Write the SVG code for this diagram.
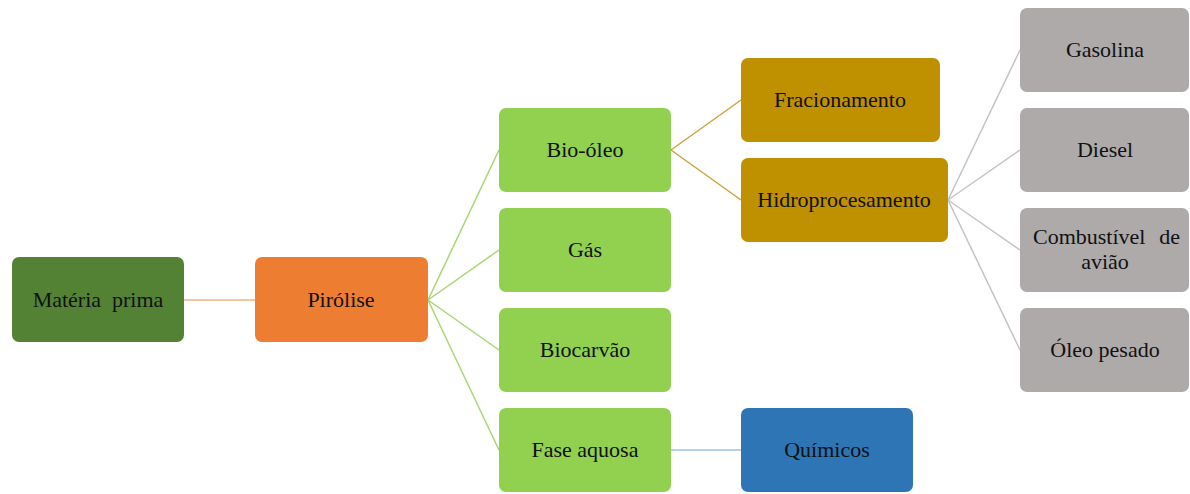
<svg xmlns="http://www.w3.org/2000/svg" width="1190" height="494" viewBox="0 0 1190 494">
<style>
.t{font-family:"Liberation Serif","Times New Roman",serif;font-size:22px;fill:#111;text-anchor:middle}
.c{fill:none;stroke-width:1.5}
</style>
<rect width="1190" height="494" fill="#fff"/>
<g id="connectors">
<line class="c" stroke="#f4b183" x1="184" y1="300" x2="255" y2="300"/>
<g stroke="#a9d672">
<line class="c" x1="428" y1="300" x2="499" y2="150"/>
<line class="c" x1="428" y1="300" x2="499" y2="250"/>
<line class="c" x1="428" y1="300" x2="499" y2="350"/>
<line class="c" x1="428" y1="300" x2="499" y2="450"/>
</g>
<g stroke="#cba53a">
<line class="c" x1="671" y1="150" x2="741" y2="100"/>
<line class="c" x1="671" y1="150" x2="741" y2="200"/>
</g>
<g stroke="#c4c4c4">
<line class="c" x1="948" y1="200" x2="1020" y2="50"/>
<line class="c" x1="948" y1="200" x2="1020" y2="150"/>
<line class="c" x1="948" y1="200" x2="1020" y2="250"/>
<line class="c" x1="948" y1="200" x2="1020" y2="350"/>
</g>
<line class="c" stroke="#9dc3e6" x1="671" y1="450" x2="741" y2="450"/>
</g>
<g id="materia"><rect x="12" y="257" width="172" height="85" rx="7" fill="#548235"/><text class="t" x="98" y="307">Matéria&#160; prima</text></g>
<g id="pirolise"><rect x="255" y="257" width="173" height="85" rx="7" fill="#ed7d31"/><text class="t" x="341" y="307">Pirólise</text></g>
<g id="bio-oleo"><rect x="499" y="108" width="172" height="84" rx="7" fill="#92d050"/><text class="t" x="585" y="157">Bio-óleo</text></g>
<g id="gas"><rect x="499" y="208" width="172" height="84" rx="7" fill="#92d050"/><text class="t" x="585" y="257">Gás</text></g>
<g id="biocarvao"><rect x="499" y="308" width="172" height="84" rx="7" fill="#92d050"/><text class="t" x="585" y="357">Biocarvão</text></g>
<g id="fase-aquosa"><rect x="499" y="408" width="172" height="84" rx="7" fill="#92d050"/><text class="t" x="585" y="457">Fase aquosa</text></g>
<g id="fracionamento"><rect x="741" y="58" width="199" height="84" rx="7" fill="#bf9000"/><text class="t" x="840" y="107">Fracionamento</text></g>
<g id="hidroprocesamento"><rect x="741" y="158" width="207" height="84" rx="7" fill="#bf9000"/><text class="t" x="844" y="207">Hidroprocesamento</text></g>
<g id="quimicos"><rect x="741" y="408" width="172" height="84" rx="7" fill="#2e75b6"/><text class="t" x="827" y="457">Químicos</text></g>
<g id="gasolina"><rect x="1020" y="8" width="169" height="84" rx="7" fill="#aeaaaa"/><text class="t" x="1105" y="57">Gasolina</text></g>
<g id="diesel"><rect x="1020" y="108" width="169" height="84" rx="7" fill="#aeaaaa"/><text class="t" x="1105" y="157">Diesel</text></g>
<g id="combustivel"><rect x="1020" y="208" width="169" height="84" rx="7" fill="#aeaaaa"/><text class="t" x="1033" y="244" style="text-anchor:start">Combustível</text><text class="t" x="1180" y="244" style="text-anchor:end">de</text><text class="t" x="1105" y="269">avião</text></g>
<g id="oleo-pesado"><rect x="1020" y="308" width="169" height="84" rx="7" fill="#aeaaaa"/><text class="t" x="1105" y="357">Óleo pesado</text></g>
</svg>
